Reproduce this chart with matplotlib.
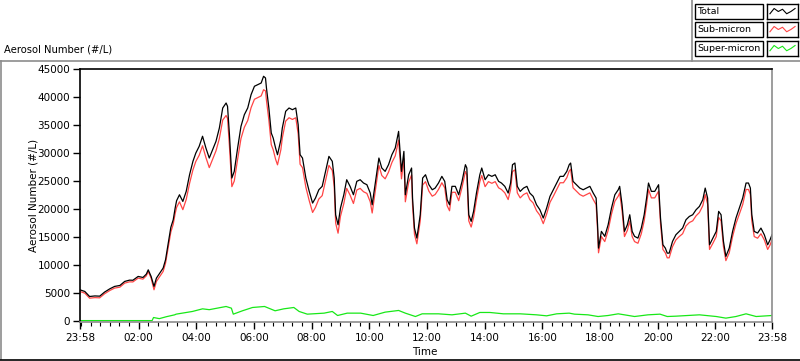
import matplotlib
matplotlib.use("Agg")
import matplotlib.pyplot as plt
from matplotlib.lines import Line2D
from matplotlib.patches import Rectangle

# minutes after 23:58 (start of the record)
total_minutes = [
    0, 10, 20, 31, 41, 51, 62, 72, 83, 93,
    103, 110, 121, 131, 138, 142, 148, 154, 159, 166,
    173, 178, 183, 189, 194, 198, 201, 207, 214, 221,
    228, 235, 241, 248, 255, 262, 269, 276, 283, 290,
    297, 304, 307, 311, 316, 321, 328, 335, 342, 349,
    356, 363, 370, 377, 382, 386, 388, 393, 398, 402,
    407, 411, 418, 421, 428, 435, 442, 449, 454, 458,
    463, 470, 477, 484, 490, 497, 504, 511, 518, 525,
    529, 532, 537, 542, 549, 555, 562, 569, 576, 583,
    590, 597, 604, 608, 615, 622, 628, 635, 642, 649,
    656, 663, 669, 674, 677, 684, 690, 692, 696, 701,
    708, 713, 719, 726, 733, 739, 746, 753, 759, 764,
    769, 774, 781, 788, 795, 802, 805, 809, 814, 819,
    825, 832, 836, 843, 850, 857, 864, 871, 877, 884,
    891, 896, 900, 905, 910, 916, 923, 930, 936, 943,
    950, 957, 964, 971, 978, 985, 992, 999, 1006, 1013,
    1018, 1021, 1026, 1033, 1040, 1047, 1054, 1061, 1068, 1074,
    1077, 1079, 1085, 1092, 1099, 1106, 1113, 1120, 1123, 1128,
    1133, 1139, 1144, 1149, 1154, 1161, 1168, 1174, 1179, 1183,
    1189, 1196, 1204, 1208, 1213, 1218, 1222, 1226, 1233, 1240,
    1247, 1254, 1261, 1268, 1275, 1282, 1289, 1296, 1301, 1306,
    1310, 1317, 1324, 1329, 1334, 1339, 1344, 1351, 1358, 1365,
    1372, 1379, 1386, 1391, 1395, 1398, 1403, 1410, 1417, 1424,
    1431, 1436, 1440,
]

total = [
    5590, 5300, 4400, 4500, 4460, 5180, 5770, 6200, 6370, 7090,
    7320, 7300, 7980, 7800, 8390, 9160, 7980, 6200, 7680, 8570,
    9470, 10950, 13630, 16740, 18100, 20180, 21500, 22560, 21370, 23160,
    26130, 28520, 30000, 31200, 33000, 30900, 29110, 30600, 32100, 34470,
    38040, 38930, 38340, 33270, 25540, 26730, 30900, 34770, 36850, 38040,
    40420, 41920, 42200, 42500, 43700, 43400, 41610, 38040, 33580, 32680,
    30900, 29700, 32380, 34470, 37450, 38040, 37740, 38040, 35060, 29700,
    29110, 25540, 23160, 21070, 21970, 23450, 24060, 26730, 29410, 28520,
    25540, 18990, 17200, 20180, 22560, 25240, 24060, 22560, 24950, 25240,
    24650, 24350, 22860, 20770, 24950, 29110, 27330, 26730, 27920, 29700,
    30900, 33870, 26730, 30300, 22560, 26130, 27330, 21970, 16610, 14820,
    18990, 25540, 26130, 24350, 23450, 23750, 24650, 25840, 24950, 21670,
    20770, 24060, 24060, 22560, 24950, 27920, 27330, 18990, 17800, 19590,
    22860, 26130, 27330, 25240, 26130, 25840, 26130, 24950, 24650, 24060,
    22860, 24650, 27920, 28220, 24060, 23160, 23750, 24060, 22860, 22270,
    20770, 19880, 18400, 20180, 22270, 23450, 24650, 25840, 25840, 26730,
    27920, 28220, 24950, 24350, 23750, 23450, 23750, 24060, 22860, 21970,
    17200, 13040, 16020, 15130, 17200, 20180, 22560, 23450, 24060, 20770,
    16020, 17200, 18990, 16020, 15130, 14820, 16610, 18990, 21970, 24650,
    23160, 23160, 24350, 18400, 13630, 13040, 12140, 12140, 14230, 15420,
    16020, 16610, 18100, 18690, 18990, 19880, 20480, 21670, 23750, 21970,
    13630, 14820, 16020, 19590, 18990, 14230, 11550, 13040, 16020, 18400,
    20180, 21970, 24650, 24650, 23750, 18990, 16020, 15720, 16610, 15420,
    13630, 14520, 15420,
]

sub_micron = [
    5290, 5000, 4100, 4200, 4160, 4880, 5470, 5900, 6070, 6790,
    7020, 7000, 7680, 7500, 8090, 8860, 7680, 5600, 7080, 7970,
    8870, 10350, 12900, 15900, 17300, 19200, 20300, 21300, 19900, 21700,
    24600, 27000, 28500, 29600, 31300, 29200, 27400, 28900, 30400, 32600,
    35900, 36700, 36200, 31200, 24000, 25000, 28900, 32600, 34600, 35800,
    38100, 39600, 39900, 40200, 41300, 41100, 39400, 35900, 31500, 30600,
    28900, 27900, 30600, 32700, 35700, 36300, 36000, 36300, 33400, 28000,
    27400, 23900, 21500, 19400, 20300, 21800, 22400, 25100, 27800, 26900,
    24000, 17500, 15700, 18700, 21000, 23700, 22500, 21000, 23400, 23700,
    23100, 22800, 21300, 19300, 23600, 27800, 26000, 25400, 26600, 28300,
    29500, 32300, 25400, 29000, 21300, 24800, 26100, 20700, 15500, 13800,
    17900, 24300, 24900, 23200, 22300, 22600, 23500, 24700, 23800, 20600,
    19700, 23000, 23000, 21500, 23900, 26700, 26100, 17900, 16800, 18500,
    21700, 24900, 26000, 24000, 24900, 24600, 24900, 23800, 23500, 22900,
    21700, 23500, 26700, 27000, 22900, 22000, 22600, 22900, 21700, 21100,
    19700, 18900, 17400, 19100, 21200, 22300, 23500, 24700, 24700, 25600,
    26800, 27100, 23800, 23200, 22600, 22300, 22600, 22900, 21700, 20800,
    16200, 12200, 15100, 14200, 16200, 19100, 21400, 22300, 22900, 19700,
    15100, 16200, 17900, 15100, 14200, 13900, 15600, 17900, 20800, 23500,
    22000, 22000, 23200, 17400, 12800, 12200, 11300, 11300, 13300, 14500,
    15100, 15600, 17000, 17600, 17900, 18800, 19400, 20600, 22600, 20900,
    12800, 13900, 15100, 18500, 17900, 13300, 10800, 12200, 15100, 17400,
    19100, 20800, 23500, 23500, 22600, 17900, 15100, 14800, 15600, 14500,
    12800, 13600, 14500,
]

super_minutes = [
    0, 150, 153, 165, 180, 197, 200, 234, 255, 269,
    304, 315, 319, 338, 359, 384, 406, 424, 445, 456,
    473, 508, 525, 536, 556, 584, 610, 635, 663, 677,
    698, 712, 746, 774, 802, 814, 832, 853, 881, 916,
    950, 971, 992, 1018, 1029, 1057, 1078, 1099, 1120, 1133,
    1154, 1182, 1207, 1222, 1240, 1289, 1324, 1344, 1365, 1386,
    1407, 1440,
]

super_micron = [
    100, 100, 650, 450, 800, 1130, 1250, 1730, 2200, 2050,
    2620, 2320, 1250, 1850, 2440, 2620, 1850, 2200, 2440, 1730,
    1250, 1430, 1730, 1010, 1430, 1430, 1010, 1610, 1910, 1430,
    830, 1310, 1310, 1130, 1430, 890, 1550, 1550, 1310, 1310,
    1130, 950, 1310, 1430, 1250, 1130, 830, 1010, 1310, 1130,
    830, 1130, 1250, 830, 890, 1130, 830, 540, 830, 1310,
    830, 1010,
]

tick_minutes = [0, 122, 242, 362, 482, 602, 722, 842, 962, 1082, 1202, 1322, 1440]
tick_labels = ["23:58", "02:00", "04:00", "06:00", "08:00", "10:00", "12:00",
               "14:00", "16:00", "18:00", "20:00", "22:00", "23:58"]
minor_minutes = [m for m in range(2, 1440, 20) if m not in tick_minutes]
y_ticks = list(range(0, 45001, 5000))

legend_names = ["Total", "Sub-micron", "Super-micron"]
colors = ["black", "#ff4545", "#18e818"]
swatch_shape = [0.35, 0.7, 0.5, 0.65, 0.35, 0.5, 0.7]

W, H = 800, 361


def fx(px):
    return px / W


def fy(py):
    return 1 - py / H


plt.rcParams["font.family"] = "DejaVu Sans"
plt.rcParams["font.size"] = 7.5

fig = plt.figure(figsize=(W / 100, H / 100), dpi=100)
fig.patch.set_facecolor("white")

ax = fig.add_axes([fx(80), fy(322), fx(772) - fx(80), fy(69) - fy(322)])
ax.plot(super_minutes, super_micron, color=colors[2], lw=0.9)
ax.plot(total_minutes, sub_micron, color=colors[1], lw=0.9)
ax.plot(total_minutes, total, color=colors[0], lw=0.9)

ax.set_xlim(0, 1440)
ax.set_ylim(-150, 45000)
ax.set_xticks(tick_minutes)
ax.set_xticklabels(tick_labels)
ax.set_xticks(minor_minutes, minor=True)
ax.set_yticks(y_ticks)
ax.set_yticklabels([str(v) for v in y_ticks])
ax.tick_params(axis="both", which="major", direction="out", length=5, width=1,
               color="black", labelsize=7.5, pad=2)
ax.tick_params(axis="x", which="minor", direction="out", length=3, width=0.8, color="black")
ax.tick_params(axis="x", pad=3)

# sunken LabVIEW frame: dark top/left, grey bottom/right
for side in ["top", "left"]:
    ax.spines[side].set_color("black")
    ax.spines[side].set_linewidth(1.2)
for side in ["bottom", "right"]:
    ax.spines[side].set_color("#8c8c8c")
    ax.spines[side].set_linewidth(1.2)

fig.text(fx(33), fy(195), "Aerosol Number (#/L)", rotation=90, ha="center", va="center")
fig.text(fx(425), fy(352), "Time", ha="center", va="center")
fig.text(fx(4), fy(49), "Aerosol Number (#/L)", ha="left", va="center", fontsize=7.2)

# panel border
fig.add_artist(Line2D([0, 1], [fy(61), fy(61)], color="#8c8c8c", lw=1.2))
fig.add_artist(Line2D([fx(1), fx(1)], [fy(61), fy(359)], color="#8c8c8c", lw=1.2))
fig.add_artist(Line2D([0, 1], [fy(359.5), fy(359.5)], color="black", lw=1.2))
fig.add_artist(Line2D([fx(692), fx(692)], [fy(0), fy(61)], color="#8c8c8c", lw=1.2))

# legend: label boxes plus plot swatches
box_tops = [4, 22, 41]
for name, color, top in zip(legend_names, colors, box_tops):
    fig.add_artist(Rectangle((fx(695), fy(top + 15)), fx(763) - fx(695), fy(top) - fy(top + 15),
                             transform=fig.transFigure, facecolor="white",
                             edgecolor="black", lw=1.0))
    fig.text(fx(697), fy(top + 7.5), name, ha="left", va="center", fontsize=6.8)
    sw = fig.add_axes([fx(767), fy(top + 15), fx(798) - fx(767), fy(top) - fy(top + 15)])
    sw.plot(range(len(swatch_shape)), swatch_shape, color=color, lw=0.8)
    sw.set_xlim(-0.7, len(swatch_shape) - 0.3)
    sw.set_ylim(0, 1)
    sw.set_xticks([])
    sw.set_yticks([])
    for s in sw.spines.values():
        s.set_color("black")
        s.set_linewidth(1.0)

fig.savefig("out.png", dpi=100, facecolor="white")
